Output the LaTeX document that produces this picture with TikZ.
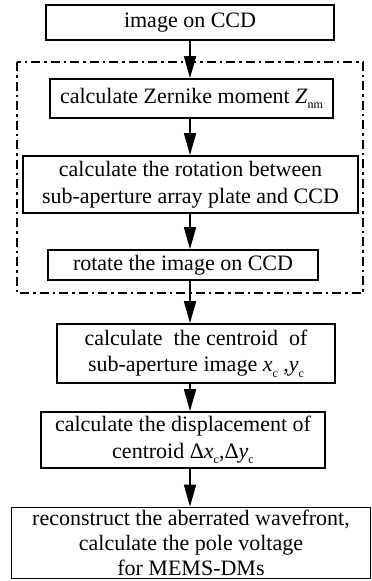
\documentclass[tikz,border=0pt]{standalone}
\usepackage{fontspec}
\setmainfont{Liberation Serif}
\usetikzlibrary{arrows.meta}
\newcommand{\mysub}[1]{\raisebox{-0.25em}{\fontsize{12}{12}\selectfont #1}}
\begin{document}
\begin{tikzpicture}[x=1pt,y=-1pt,
  box/.style={draw,line width=1.7pt,inner sep=0pt,align=center,
    font=\fontsize{22}{26.5}\selectfont},
  arr/.style={line width=1.7pt,-{Triangle[length=22pt,width=12pt]}},
  grp/.style={line width=1.9pt,dash pattern=on 9pt off 4pt on 2.5pt off 4pt}]
\useasboundingbox (0,0) rectangle (372,581);
\coordinate (ax) at (190,0);
\node[box,minimum width=288pt,minimum height=35pt] (b1) at (190,22.5) {image on CCD};
\node[box,minimum width=283pt,minimum height=39pt] (b2) at (191.5,98.5)
  {calculate Zernike moment \textit{Z}\mysub{nm}};
\node[box,minimum width=335pt,minimum height=57pt] (b3) at (190.5,184.5)
  {calculate the rotation between\\sub-aperture array plate and CCD};
\node[box,minimum width=270pt,minimum height=30pt] (b4) at (183,265) {rotate the image on CCD};
\node[box,minimum width=278pt,minimum height=59pt] (b5) at (196,353.5)
  {calculate\ \ the centroid\ \ of\\sub-aperture image \textit{x}\mysub{c} ,\textit{y}\mysub{c}};
\node[box,minimum width=284pt,minimum height=56pt] (b6) at (183,440)
  {calculate the displacement of\\centroid Δ\textit{x}\mysub{c},Δ\textit{y}\mysub{c}};
\node[box,minimum width=359pt,minimum height=71pt,font=\fontsize{22}{25}\selectfont] (b7) at (191,543)
  {reconstruct the aberrated wavefront,\\calculate the pole voltage\\for MEMS-DMs};
\draw[grp] (17,62) rectangle (363,293);
\draw[arr] (b1.south -| ax) -- (b2.north -| ax);
\draw[arr] (b2.south -| ax) -- (b3.north -| ax);
\draw[arr] (b3.south -| ax) -- (b4.north -| ax);
\draw[arr] (b4.south -| ax) -- (b5.north -| ax);
\draw[arr] (b5.south -| ax) -- (b6.north -| ax);
\draw[arr] (b6.south -| ax) -- (b7.north -| ax);
\end{tikzpicture}
\end{document}
